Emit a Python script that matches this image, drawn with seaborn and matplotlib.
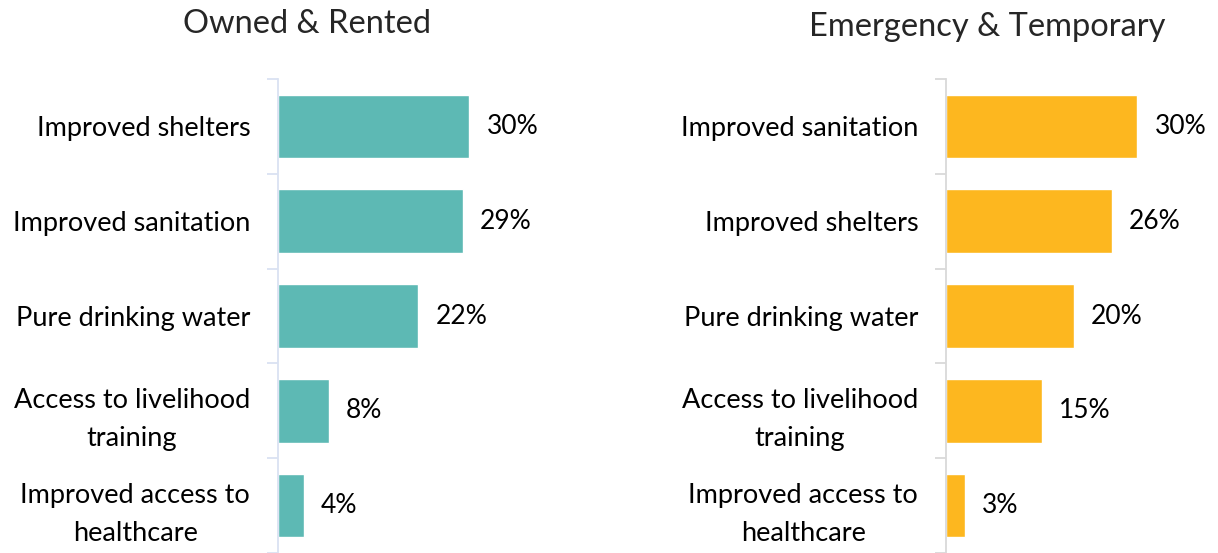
import seaborn as sns
import matplotlib.pyplot as plt
import pandas as pd

sns.set_theme(style="white")
plt.rcParams['font.family'] = ['Lato', 'DejaVu Sans']

titles = ["Owned & Rented", "Emergency & Temporary"]

owned_labels = ["Improved shelters", "Improved sanitation", "Pure drinking water",
                "Access to livelihood\ntraining", "Improved access to\nhealthcare"]
owned_values = [30, 29, 22, 8, 4]

emerg_labels = ["Improved sanitation", "Improved shelters", "Pure drinking water",
                "Access to livelihood\ntraining", "Improved access to\nhealthcare"]
emerg_values = [30, 26, 20, 15, 3]

colors = ["#5DB9B4", "#FDB71F"]
spine_colors = ["#DAE2F2", "#D9D9D9"]

fig = plt.figure(figsize=(12.18, 5.53), dpi=100)
W, H = 1218, 553
axes = [fig.add_axes([278 / W, 0, 255 / W, (553 - 79) / H]),
        fig.add_axes([946 / W, 0, 255 / W, (553 - 79) / H])]

panels = [(owned_labels, owned_values), (emerg_labels, emerg_values)]
for i, (ax, (labels, values)) in enumerate(zip(axes, panels)):
    df = pd.DataFrame({"label": labels, "value": values})
    sns.barplot(data=df, x="value", y="label", orient="h", color=colors[i],
                width=0.67, saturation=1, ax=ax)
    ax.set_xlim(0, 40)
    ax.set_ylim(4.5, -0.5)
    for p, v in zip(ax.patches, values):
        ax.text(p.get_width() + 2.7, p.get_y() + p.get_height() / 2, f"{v}%",
                va="center", ha="left", fontsize=19, color="black")
    ax.set_xlabel("")
    ax.set_ylabel("")
    ax.set_xticks([])
    ax.tick_params(axis="y", which="major", length=0, pad=20, labelsize=19.5,
                   labelcolor="black")
    ax.set_yticks([-0.5, 0.5, 1.5, 2.5, 3.5, 4.5], minor=True)
    ax.tick_params(axis="y", which="minor", length=8, width=1.3,
                   color=spine_colors[i], left=True)
    for lab in ax.get_yticklabels():
        lab.set_multialignment("center")
        lab.set_linespacing(1.65)
    for s in ["top", "right", "bottom"]:
        ax.spines[s].set_visible(False)
    ax.spines["left"].set_color(spine_colors[i])
    ax.spines["left"].set_linewidth(1.3)

fig.text(307 / W, 1 - 24 / H, titles[0], ha="center", va="center", fontsize=23.5)
fig.text(987 / W, 1 - 27 / H, titles[1], ha="center", va="center", fontsize=23.5)

fig.savefig("out.png", dpi=100)
